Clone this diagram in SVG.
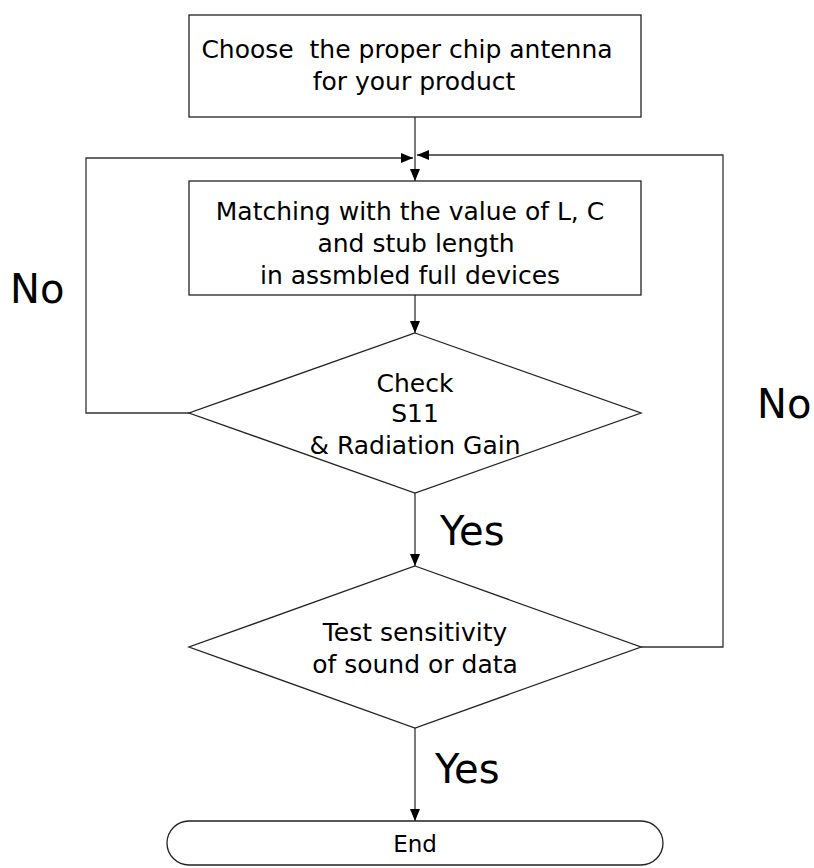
<svg xmlns="http://www.w3.org/2000/svg" width="814" height="868" viewBox="0 0 814 868">
<defs>
<marker id="arr" markerWidth="12" markerHeight="10" refX="12" refY="5" orient="auto" markerUnits="userSpaceOnUse">
<path d="M0,0 L12,5 L0,10 Z" fill="#000"/>
</marker>
<style>
.s{fill:#fff;stroke:#222;stroke-width:1.3}
.c{fill:none;stroke:#333;stroke-width:1.3}
.t{font-family:"DejaVu Sans",sans-serif;font-size:25px;fill:#000;text-anchor:middle}
.b{font-family:"DejaVu Sans",sans-serif;font-size:40px;fill:#000}
</style>
</defs>
<rect width="814" height="868" fill="#fff"/>
<g id="connectors">
<line class="c" x1="415" y1="117" x2="415" y2="181" marker-end="url(#arr)"/>
<polyline class="c" points="189,413 86,413 86,158 413,158" marker-end="url(#arr)"/>
<polyline class="c" points="641,647 723,647 723,155 417,155" marker-end="url(#arr)"/>
<line class="c" x1="415" y1="295" x2="415" y2="333" marker-end="url(#arr)"/>
<line class="c" x1="415" y1="493" x2="415" y2="566" marker-end="url(#arr)"/>
<line class="c" x1="415" y1="728" x2="415" y2="821" marker-end="url(#arr)"/>
<text class="b" x="440" y="545">Yes</text>
<text class="b" x="435" y="783">Yes</text>
<text class="b" x="10" y="303">No</text>
<text class="b" x="757" y="418">No</text>
</g>
<g id="choose">
<rect class="s" x="189" y="15" width="452" height="102"/>
<text class="t" x="407" y="58" xml:space="preserve">Choose  the proper chip antenna</text>
<text class="t" x="414" y="90">for your product</text>
</g>
<g id="matching">
<rect class="s" x="189" y="181" width="452" height="114"/>
<text class="t" x="410" y="220">Matching with the value of L, C</text>
<text class="t" x="416" y="252">and stub length</text>
<text class="t" x="410" y="284">in assmbled full devices</text>
</g>
<g id="check">
<polygon class="s" points="415,333 641,413 415,493 189,413"/>
<text class="t" x="415" y="392">Check</text>
<text class="t" x="415" y="422">S11</text>
<text class="t" x="415" y="454">&amp; Radiation Gain</text>
</g>
<g id="test">
<polygon class="s" points="415,566 641,647 415,728 189,647"/>
<text class="t" x="415" y="641">Test sensitivity</text>
<text class="t" x="415" y="673">of sound or data</text>
</g>
<g id="end">
<rect class="s" x="167" y="821" width="496" height="44" rx="22" ry="22"/>
<text class="t" x="415" y="852" style="font-size:23px">End</text>
</g>
</svg>
